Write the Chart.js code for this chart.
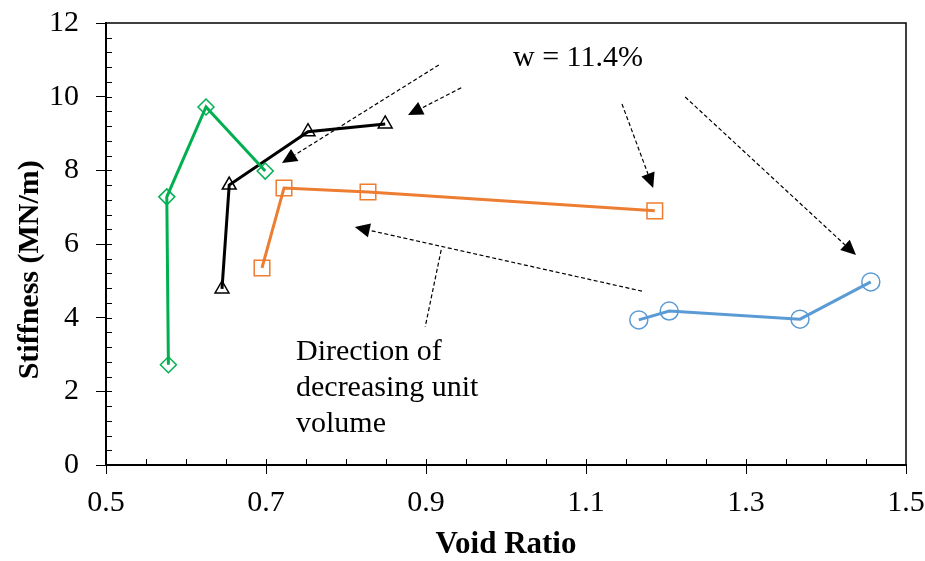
<!DOCTYPE html>
<html>
<head>
<meta charset="utf-8">
<script src="https://cdn.jsdelivr.net/npm/chart.js@4.4.1/dist/chart.umd.min.js"></script>
<style>
  html, body { margin: 0; padding: 0; background: #fff; }
</style>
</head>
<body>
<canvas id="stiffChart" width="925" height="561"></canvas>
<script>
// void ratio (x) vs stiffness (y), one array pair per series
const greenVoid = [0.578, 0.576, 0.625, 0.699];
const greenStiff = [2.72, 7.28, 9.72, 7.98];
const blackVoid = [0.645, 0.654, 0.7525, 0.849];
const blackStiff = [4.78, 7.60, 9.05, 9.26];
const orangeVoid = [0.695, 0.7225, 0.8275, 1.186];
const orangeStiff = [5.35, 7.52, 7.41, 6.90];
const blueVoid = [1.166, 1.204, 1.3675, 1.456];
const blueStiff = [3.94, 4.18, 3.96, 4.97];

const xTicks = [0.5, 0.7, 0.9, 1.1, 1.3, 1.5];
const yTicks = [0, 2, 4, 6, 8, 10, 12];

// annotation arrows, in data units: [fromX, fromY, toX, toY, hasHead]
const arrows = [
    [0.916, 10.86, 0.720, 8.20, true],
    [0.944, 10.24, 0.8775, 9.50, true],
    [1.145, 9.80, 1.184, 7.52, true],
    [1.224, 9.99, 1.4375, 5.70, true],
    [1.170, 4.72, 0.811, 6.46, true],
    [0.919, 5.84, 0.899, 3.75, false]
];
const noteW = "w = 11.4%";
const noteDir = ["Direction of", "decreasing unit", "volume"];
const yTitle = "Stiffness (MN/m)";

const serif = "'Liberation Serif', 'Times New Roman', serif";

function pts(xs, ys) {
    return xs.map((x, i) => ({ x: x, y: ys[i] }));
}

function series(label, xs, ys, color, style, radius) {
    return {
        label,
        data: pts(xs, ys),
        showLine: true,
        borderColor: color,
        backgroundColor: "rgba(0,0,0,0)",
        borderWidth: 3,
        pointStyle: style,
        pointRadius: radius,
        pointBorderWidth: 1.5,
        pointBorderColor: color,
        pointBackgroundColor: "rgba(0,0,0,0)",
        tension: 0
    };
}

function drawArrow(ctx, x1, y1, x2, y2, head) {
    const ang = Math.atan2(y2 - y1, x2 - x1);
    const len = 15, half = 7;
    const ex = head ? x2 - Math.cos(ang) * len : x2;
    const ey = head ? y2 - Math.sin(ang) * len : y2;
    ctx.save();
    ctx.strokeStyle = "#000";
    ctx.lineWidth = 1.2;
    ctx.setLineDash([4, 2.5]);
    ctx.beginPath();
    ctx.moveTo(x1, y1);
    ctx.lineTo(ex, ey);
    ctx.stroke();
    ctx.setLineDash([]);
    if (head) {
        ctx.fillStyle = "#000";
        ctx.beginPath();
        ctx.moveTo(x2, y2);
        ctx.lineTo(ex - Math.sin(ang) * half, ey + Math.cos(ang) * half);
        ctx.lineTo(ex + Math.sin(ang) * half, ey - Math.cos(ang) * half);
        ctx.closePath();
        ctx.fill();
    }
    ctx.restore();
}

const extras = {
    id: "extras",
    afterDraw(chart) {
        const ctx = chart.ctx;
        const xs = chart.scales.x, ys = chart.scales.y;
        const a = chart.chartArea;

        // frame on top and right
        ctx.save();
        ctx.strokeStyle = "#000";
        ctx.lineWidth = 1.5;
        ctx.beginPath();
        ctx.moveTo(a.left, a.top);
        ctx.lineTo(a.right, a.top);
        ctx.lineTo(a.right, a.bottom);
        ctx.stroke();

        // minor ticks pointing inward
        ctx.lineWidth = 1;
        ctx.beginPath();
        for (let v = 0.55; v < 1.5; v += 0.05) {
            const px = Math.round(xs.getPixelForValue(v)) + 0.5;
            ctx.moveTo(px, a.bottom);
            ctx.lineTo(px, a.bottom - 6);
        }
        for (let v = 0.4; v < 12; v += 0.4) {
            const py = Math.round(ys.getPixelForValue(v)) + 0.5;
            ctx.moveTo(a.left, py);
            ctx.lineTo(a.left + 6, py);
        }
        ctx.stroke();
        ctx.restore();

        arrows.forEach(r => {
            drawArrow(ctx, xs.getPixelForValue(r[0]), ys.getPixelForValue(r[1]),
                xs.getPixelForValue(r[2]), ys.getPixelForValue(r[3]), r[4]);
        });

        ctx.save();
        ctx.fillStyle = "#000";
        ctx.font = "30px " + serif;
        ctx.textBaseline = "middle";
        ctx.textAlign = "center";
        ctx.fillText(noteW, xs.getPixelForValue(1.09), ys.getPixelForValue(11.05));
        ctx.textAlign = "left";
        noteDir.forEach((t, i) => {
            ctx.fillText(t, xs.getPixelForValue(0.7375), ys.getPixelForValue(3.07 - i * 0.98));
        });

        // y title sits a bit below the axis middle in the original
        ctx.font = "bold 30px " + serif;
        ctx.textAlign = "center";
        ctx.translate(30, ys.getPixelForValue(5.3));
        ctx.rotate(-Math.PI / 2);
        ctx.fillText(yTitle, 0, 0);
        ctx.restore();
    }
};

new Chart(document.getElementById("stiffChart").getContext("2d"), {
    type: "scatter",
    data: {
        datasets: [
            series("Green", greenVoid, greenStiff, "#00B050", "rectRot", 8),
            series("Black", blackVoid, blackStiff, "#000000", "triangle", 8),
            series("Orange", orangeVoid, orangeStiff, "#ED7D31", "rect", 11),
            series("Blue", blueVoid, blueStiff, "#5B9BD5", "circle", 9)
        ]
    },
    options: {
        responsive: false,
        animation: false,
        layout: { padding: { top: 23, right: 19, left: 0, bottom: 0 } },
        plugins: {
            legend: { display: false },
            tooltip: { enabled: false }
        },
        scales: {
            x: {
                type: "linear",
                min: 0.5,
                max: 1.5,
                afterBuildTicks: s => { s.ticks = xTicks.map(v => ({ value: v })); },
                afterFit: s => { s.height = 96; s.paddingLeft = 0; s.paddingRight = 0; },
                ticks: {
                    color: "#000",
                    font: { family: serif, size: 30 },
                    padding: 11,
                    maxRotation: 0,
                    callback: v => v.toFixed(1)
                },
                grid: { drawOnChartArea: false, drawTicks: true, tickLength: 9, color: "#000", lineWidth: 1 },
                border: { display: true, color: "#000", width: 2 },
                title: {
                    display: true,
                    text: "Void Ratio",
                    color: "#000",
                    font: { family: serif, size: 31, weight: "bold" },
                    padding: { top: 0, bottom: -3 }
                }
            },
            y: {
                type: "linear",
                min: 0,
                max: 12,
                afterBuildTicks: s => { s.ticks = yTicks.map(v => ({ value: v })); },
                afterFit: s => { s.width = 106; s.paddingTop = 0; s.paddingBottom = 0; },
                ticks: {
                    color: "#000",
                    font: { family: serif, size: 30 },
                    padding: 17,
                    callback: v => String(v)
                },
                grid: { drawOnChartArea: false, drawTicks: true, tickLength: 10, color: "#000", lineWidth: 1 },
                border: { display: true, color: "#000", width: 2 },
                title: { display: false }
            }
        }
    },
    plugins: [extras]
});
</script>
</body>
</html>
